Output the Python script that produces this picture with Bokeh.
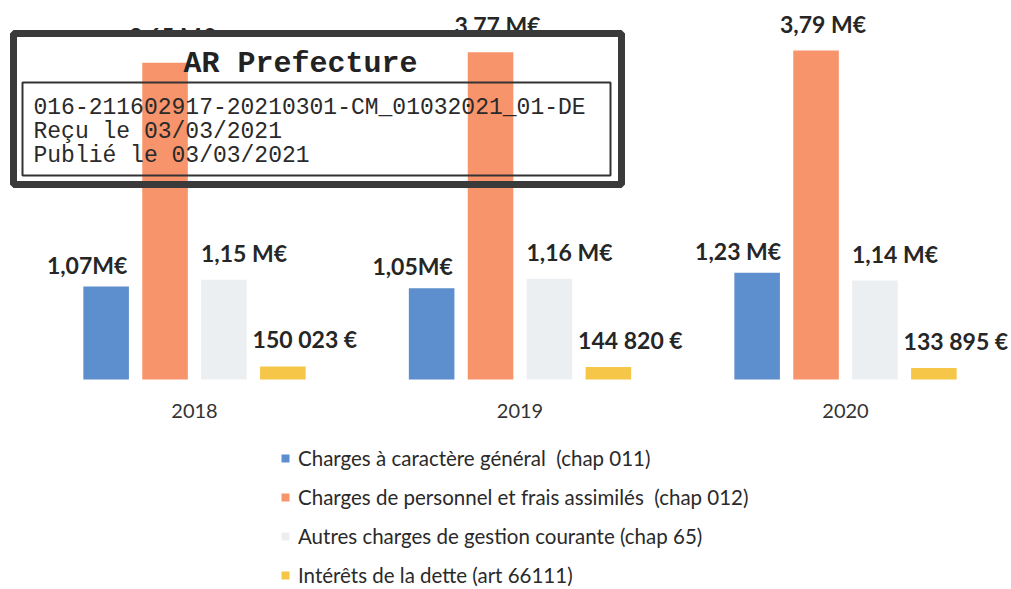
from bokeh.plotting import figure
from bokeh.models import (Range1d, ColumnDataSource, Legend, LegendItem,
                          BoxAnnotation, Label, FixedTicker)
from bokeh.transform import dodge
from bokeh.core.properties import value
from bokeh.embed import file_html
from bokeh.resources import INLINE

# ---------------- data ----------------
years = ["2018", "2019", "2020"]
series_names = [
    "Charges à caractère général  (chap 011)",
    "Charges de personnel et frais assimilés  (chap 012)",
    "Autres charges de gestion courante (chap 65)",
    "Intérêts de la dette (art 66111)",
]
general = [1070000, 1050000, 1230000]
personnel = [3650000, 3770000, 3790000]
autres = [1150000, 1160000, 1140000]
interets = [150023, 144820, 133895]
general_lbl = ["1,07M€", "1,05M€", "1,23 M€"]
personnel_lbl = ["3,65 M€", "3.77 M€", "3,79 M€"]
autres_lbl = ["1,15 M€", "1,16 M€", "1,14 M€"]
interets_lbl = ["150 023 €", "144 820 €", "133 895 €"]
colors = ["#5d8ecd", "#f8946c", "#eceff1", "#f6c648"]

stamp_title = "AR Prefecture"
stamp_lines = ["016-211602917-20210301-CM_01032021_01-DE",
               "Reçu le 03/03/2021",
               "Publié le 03/03/2021"]

# ---------------- layout ----------------
W, H = 1010, 588
GROUP0 = 194.0        # page px of first group centre
GROUP_STEP = 325.5    # page px between groups
BASE = 379.0          # page px of the zero line
PX_PER_EURO = 86.8e-6

x_start = -GROUP0 / GROUP_STEP
x_end = (W - GROUP0) / GROUP_STEP
y_end = BASE / PX_PER_EURO
y_start = -(H - BASE) / PX_PER_EURO


def fx(px):
    return (px - GROUP0) / GROUP_STEP


def fy(py):
    return (BASE - py) / PX_PER_EURO


xpos = list(range(len(years)))
src = ColumnDataSource(dict(x=xpos, general=general, personnel=personnel,
                            autres=autres, interets=interets,
                            general_lbl=general_lbl, personnel_lbl=personnel_lbl,
                            autres_lbl=autres_lbl, interets_lbl=interets_lbl))

p = figure(x_range=Range1d(x_start, x_end), y_range=Range1d(y_start, y_end),
           width=W, height=H, min_border=0,
           output_backend="svg", toolbar_location=None)
p.outline_line_color = None
p.grid.grid_line_color = None
p.yaxis.visible = False
p.xaxis.fixed_location = 0
p.xaxis.ticker = FixedTicker(ticks=xpos)
p.xaxis.major_label_overrides = {i: y for i, y in zip(xpos, years)}
p.xaxis.axis_line_color = None
p.xaxis.major_tick_line_color = None
p.xaxis.minor_tick_line_color = None
p.xaxis.major_label_text_font = "Lato"
p.xaxis.major_label_text_font_size = "20px"
p.xaxis.major_label_text_color = "#333333"
p.xaxis.major_label_standoff = 18

offsets = [-0.2715, -0.0905, 0.0905, 0.2715]
cols = ["general", "personnel", "autres", "interets"]
label_dx = [-19, 7, 20, 22]
label_dy = [-22, -27, -27, -27]
BAR_W = 0.14

renderers = {}
for i in [0, 2, 3]:
    renderers[i] = p.vbar(x=dodge("x", offsets[i]), top=cols[i], width=BAR_W,
                          source=src, fill_color=colors[i], line_color=None)

for i in range(4):
    p.text(x=dodge("x", offsets[i]), y=cols[i], text=cols[i] + "_lbl",
           source=src, text_align="center", text_baseline="alphabetic",
           x_offset=label_dx[i], y_offset=label_dy[i],
           text_font=value("Lato"), text_font_style="bold", text_font_size="23px",
           text_color="#262626")

# stamp paper (covers labels beneath it)
p.quad(left=[fx(13)], right=[fx(621)], top=[fy(33)], bottom=[fy(184)],
       fill_color="white", line_color=None)

# orange bars (visible through the stamp)
renderers[1] = p.vbar(x=dodge("x", offsets[1]), top=cols[1], width=BAR_W, source=src,
                      fill_color=colors[1], line_color=None)

# stamp borders and text
p.add_layout(BoxAnnotation(left=fx(13), right=fx(621), top=fy(33), bottom=fy(184),
                           fill_alpha=0, line_alpha=1, line_color="#3a3a3a", line_width=7))
p.add_layout(BoxAnnotation(left=fx(22), right=fx(610), top=fy(82), bottom=fy(175),
                           fill_alpha=0, line_alpha=1, line_color="#333333", line_width=2))
p.add_layout(Label(x=fx(300), y=fy(63), text=stamp_title, text_align="center",
                   text_baseline="middle", text_font="Liberation Mono",
                   text_font_style="bold", text_font_size="30px", text_color="#222222"))
for k, line in enumerate(stamp_lines):
    p.add_layout(Label(x=fx(33), y=fy(107 + 24 * k), text=line, text_align="left",
                       text_baseline="middle", text_font="Liberation Mono",
                       text_font_size="23px", text_color="#2a2a2a"))

legend = Legend(items=[LegendItem(label=series_names[i], renderers=[renderers[i]])
                       for i in range(4)],
                orientation="vertical", location=(280, 1),
                border_line_color=None, background_fill_alpha=0,
                glyph_width=10, glyph_height=10, label_standoff=8,
                label_text_font="Lato", label_text_font_size="20.5px",
                label_text_color="#2a2a2a", label_height=22, spacing=15,
                padding=0, margin=0)
p.add_layout(legend, "center")

open("out.html", "w").write(file_html(p, INLINE))
